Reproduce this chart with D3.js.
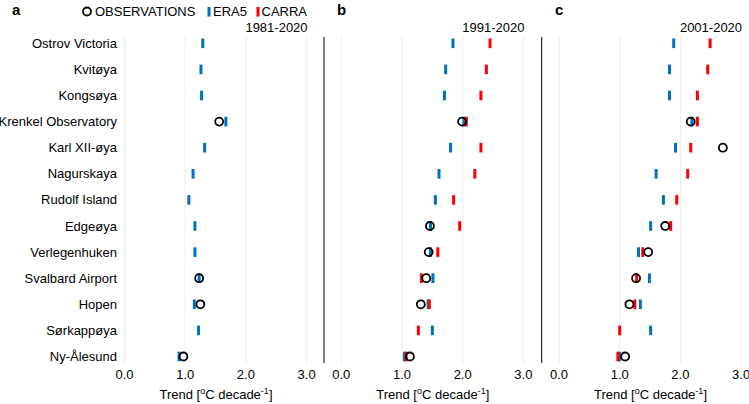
<!DOCTYPE html>
<html><head><meta charset="utf-8">
<script src="https://cdn.jsdelivr.net/npm/d3@7"></script>
<style>body{margin:0;background:#fff}svg{display:block}text{font-family:"Liberation Sans",Arial,sans-serif;fill:#000}</style>
</head><body><svg id="c" width="749" height="404"></svg>
<script>
const stations = ["Ostrov Victoria","Kvitøya","Kongsøya","Krenkel Observatory","Karl XII-øya","Nagurskaya","Rudolf Island","Edgeøya","Verlegenhuken","Svalbard Airport","Hopen","Sørkappøya","Ny-Ålesund"];
const periods = ["1981-2020","1991-2020","2001-2020"];
const panelLetters = ["a","b","c"];
const xTicks = [0,1,2,3];
// Observations (null = no data)
const obs1981 = [null,null,null,1.56,null,null,null,null,null,1.23,1.25,null,0.97];
const obs1991 = [null,null,null,1.99,null,null,null,1.46,1.44,1.40,1.31,null,1.13];
const obs2001 = [null,null,null,2.17,2.70,null,null,1.75,1.47,1.27,1.16,null,1.09];
// ERA5
const era1981 = [1.29,1.26,1.27,1.67,1.32,1.13,1.06,1.16,1.16,1.23,1.15,1.22,0.90];
const era1991 = [1.84,1.72,1.70,2.02,1.80,1.61,1.55,1.47,1.47,1.51,1.43,1.50,1.04];
const era2001 = [1.89,1.82,1.82,2.19,1.92,1.60,1.72,1.51,1.31,1.49,1.34,1.51,1.00];
// CARRA
const carra1981 = [null,null,null,null,null,null,null,null,null,null,null,null,null];
const carra1991 = [2.45,2.39,2.30,2.06,2.30,2.20,1.85,1.95,1.59,1.32,1.45,1.27,1.07];
const carra2001 = [2.49,2.45,2.28,2.28,2.17,2.12,1.94,1.84,1.38,1.28,1.25,1.00,0.97];

(function(){
const obsAll=[obs1981,obs1991,obs2001], eraAll=[era1981,era1991,era2001], carraAll=[carra1981,carra1991,carra2001];
const BLUE="#0072BD", RED="#FF0000";
const svg=d3.select("#c");
const y=d3.scalePoint().domain(stations).range([43.3,356.5]);
const panelX0=[107.2,324,541.7], panelW=217.6;
const yTop=37, yBot=363;

panelX0.forEach((x0,p)=>{
  const x=d3.scaleLinear().domain([-0.285,3.3]).range([x0,x0+panelW]);
  const g=svg.append("g");
  g.selectAll("line.grid").data(xTicks).join("line")
    .attr("x1",d=>x(d)).attr("x2",d=>x(d)).attr("y1",yTop).attr("y2",yBot)
    .attr("stroke","#ebebeb").attr("stroke-width",1);
  if(p>0) g.append("line").attr("x1",x0).attr("x2",x0).attr("y1",yTop).attr("y2",yBot).attr("stroke","#000").attr("stroke-width",1);
  g.selectAll("text.tick").data(xTicks).join("text")
    .attr("x",d=>x(d)).attr("y",379).attr("text-anchor","middle").attr("font-size",13)
    .text(d=>d3.format(".1f")(d));
  const t=g.append("text").attr("x",x0+panelW/2).attr("y",399).attr("text-anchor","middle").attr("font-size",13);
  t.append("tspan").text("Trend [");
  t.append("tspan").attr("font-size",9).attr("dy",-5).text("o");
  t.append("tspan").attr("dy",5).text("C decade");
  t.append("tspan").attr("font-size",9).attr("dy",-5).text("-1");
  t.append("tspan").attr("dy",5).text("]");
  g.append("text").attr("x",x(3)+1).attr("y",31.5).attr("text-anchor","end").attr("font-size",13).text(periods[p]);
  g.append("text").attr("x",[12,337,555][p]).attr("y",14.5).attr("font-size",15).attr("font-weight","bold").text(panelLetters[p]);
  const bar=(arr,col)=>g.append("g").selectAll("rect").data(arr.map((v,i)=>({v,s:stations[i]})).filter(d=>d.v!=null)).join("rect")
    .attr("x",d=>x(d.v)-1.5).attr("y",d=>y(d.s)-4.8).attr("width",3).attr("height",9.6).attr("fill",col);
  bar(eraAll[p],BLUE);
  bar(carraAll[p],RED);
  g.append("g").selectAll("circle").data(obsAll[p].map((v,i)=>({v,s:stations[i]})).filter(d=>d.v!=null)).join("circle")
    .attr("cx",d=>x(d.v)).attr("cy",d=>y(d.s)).attr("r",4).attr("fill","none").attr("stroke","#000").attr("stroke-width",1.8);
});
svg.append("g").selectAll("text").data(stations).join("text")
  .attr("x",117).attr("y",d=>y(d)+4.5).attr("text-anchor","end").attr("font-size",13).text(d=>d);
const lg=svg.append("g");
lg.append("circle").attr("cx",87).attr("cy",11.5).attr("r",4).attr("fill","none").attr("stroke","#000").attr("stroke-width",1.8);
lg.append("text").attr("x",95).attr("y",16).attr("font-size",13).text("OBSERVATIONS");
lg.append("rect").attr("x",207.5).attr("y",7).attr("width",3).attr("height",9.6).attr("fill",BLUE);
lg.append("text").attr("x",213).attr("y",16).attr("font-size",13).text("ERA5");
lg.append("rect").attr("x",256.5).attr("y",7).attr("width",3).attr("height",9.6).attr("fill",RED);
lg.append("text").attr("x",261.5).attr("y",16).attr("font-size",13).text("CARRA");
})();
</script></body></html>
